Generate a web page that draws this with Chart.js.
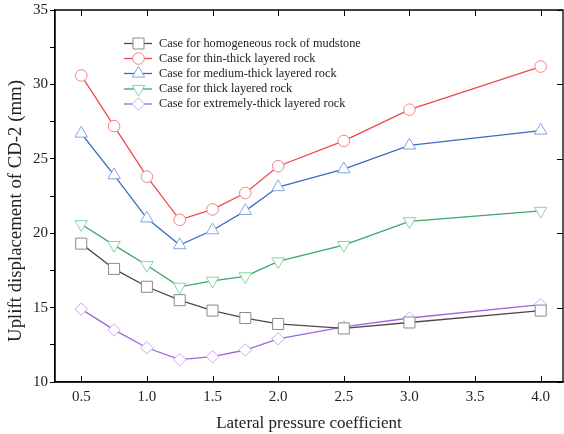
<!DOCTYPE html>
<html>
<head>
<meta charset="utf-8">
<script src="https://cdn.jsdelivr.net/npm/chart.js@4.4.1/dist/chart.umd.min.js"></script>
<style>
html,body{margin:0;padding:0;background:#fff;}
#wrap{width:564px;height:434px;position:relative;}
</style>
</head>
<body>
<div id="wrap"><canvas id="c" width="564" height="434"></canvas></div>
<script>
const lateralCoeff = [0.5, 0.75, 1.0, 1.25, 1.5, 1.75, 2.0, 2.5, 3.0, 4.0];
const homogeneous = [19.3, 17.6, 16.4, 15.5, 14.8, 14.3, 13.9, 13.6, 14.0, 14.8];
const thinThick = [30.6, 27.2, 23.8, 20.9, 21.6, 22.7, 24.5, 26.2, 28.3, 31.2];
const mediumThick = [26.7, 23.9, 21.0, 19.2, 20.2, 21.5, 23.1, 24.3, 25.9, 26.9];
const thickLayered = [20.6, 19.2, 17.85, 16.4, 16.8, 17.1, 18.1, 19.2, 20.8, 21.5];
const extremelyThick = [14.9, 13.5, 12.3, 11.5, 11.7, 12.15, 12.9, 13.7, 14.3, 15.2];
const xTicks = [0.5, 1.0, 1.5, 2.0, 2.5, 3.0, 3.5, 4.0];
const seriesNames = [
  'Case for homogeneous rock of mudstone',
  'Case for thin-thick layered rock',
  'Case for medium-thick layered rock',
  'Case for thick layered rock',
  'Case for extremely-thick layered rock'
];
const xTitle = 'Lateral pressure coefficient';
const yTitle = 'Uplift displacement of CD-2 (mm)';

const FONT = '"Liberation Serif", "Times New Roman", serif';
const pts = arr => lateralCoeff.map((x, i) => ({x, y: arr[i]}));

const styles = [
  {line:'#4a4a4a', mk:'#8a8a8a', style:'rect', r:7.8, rot:0},
  {line:'#f04848', mk:'#f08484', style:'circle', r:5.8, rot:0},
  {line:'#3a6cc0', mk:'#84a6e0', style:'triangle', r:7.2, rot:0},
  {line:'#3aa868', mk:'#86d4a6', style:'triangle', r:7.2, rot:180},
  {line:'#9e66de', mk:'#c8aaf0', style:'rectRot', r:6.2, rot:0}
];
const allData = [homogeneous, thinThick, mediumThick, thickLayered, extremelyThick];

const datasets = allData.map((d, i) => ({
  label: seriesNames[i],
  data: pts(d),
  borderColor: styles[i].line,
  borderWidth: 1.3,
  pointStyle: styles[i].style,
  pointRotation: styles[i].rot,
  pointRadius: styles[i].r,
  pointHoverRadius: styles[i].r,
  pointBorderColor: styles[i].mk,
  pointBackgroundColor: '#ffffff',
  pointBorderWidth: 1,
  tension: 0,
  fill: false
}));

const framePlugin = {
  id: 'frame',
  afterDraw(chart) {
    const ctx = chart.ctx;
    const a = chart.chartArea;
    const xs = chart.scales.x, ys = chart.scales.y;
    ctx.save();
    ctx.strokeStyle = '#000';
    ctx.lineWidth = 1.3;
    ctx.beginPath();
    ctx.rect(a.left, a.top, a.right - a.left, a.bottom - a.top);
    ctx.stroke();
    ctx.lineWidth = 1;
    ctx.beginPath();
    xTicks.forEach(v => {
      const px = Math.round(xs.getPixelForValue(v)) + 0.5;
      ctx.moveTo(px, a.bottom); ctx.lineTo(px, a.bottom - 6);
      ctx.moveTo(px, a.top); ctx.lineTo(px, a.top + 6);
    });
    for (let v = 10; v <= 35; v += 5) {
      const py = Math.round(ys.getPixelForValue(v)) + 0.5;
      ctx.moveTo(a.right, py); ctx.lineTo(a.right - 6, py);
    }
    ctx.stroke();
    // y axis title
    ctx.save();
    ctx.translate(16.5, 211);
    ctx.rotate(-Math.PI / 2);
    ctx.font = '18.8px ' + FONT;
    ctx.fillStyle = '#222';
    ctx.textAlign = 'center';
    ctx.textBaseline = 'middle';
    ctx.fillText(yTitle, 0, 0);
    ctx.restore();
    // legend
    const lx0 = 124, lx1 = 152, lmx = 138.5, tx = 159;
    const rows = [43.5, 58.5, 73.5, 89, 104];
    ctx.font = '12.3px ' + FONT;
    ctx.textBaseline = 'middle';
    ctx.textAlign = 'left';
    chart.data.datasets.forEach((ds, i) => {
      const y = rows[i];
      ctx.strokeStyle = ds.borderColor;
      ctx.lineWidth = 1.3;
      ctx.beginPath(); ctx.moveTo(lx0, y); ctx.lineTo(lx1, y); ctx.stroke();
      ctx.fillStyle = '#fff';
      ctx.strokeStyle = ds.pointBorderColor;
      ctx.lineWidth = 1;
      Chart.helpers.drawPoint(ctx, {pointStyle: ds.pointStyle, rotation: ds.pointRotation, radius: ds.pointRadius, borderWidth: 1}, lmx, y);
      ctx.fillStyle = '#222';
      ctx.fillText(ds.label, tx, y);
    });
    ctx.restore();
  }
};

new Chart(document.getElementById('c'), {
  type: 'line',
  data: {datasets},
  options: {
    responsive: false,
    animation: false,
    events: [],
    layout: {autoPadding: false, padding: {top: 10, right: 1, left: 0, bottom: 0}},
    plugins: {legend: {display: false}, tooltip: {enabled: false}},
    scales: {
      x: {
        type: 'linear',
        min: 0.3,
        max: 4.17,
        afterBuildTicks: s => { s.ticks = xTicks.map(v => ({value: v})); },
        afterFit: s => { s.height = 52; s.paddingLeft = 0; s.paddingRight = 0; },
        grid: {display: true, drawOnChartArea: false, drawTicks: true, tickLength: 6, color: 'rgba(0,0,0,0)'},
        border: {display: true, color: '#000', width: 1.3},
        ticks: {
          font: {family: FONT, size: 15},
          color: '#222',
          padding: 0,
          maxRotation: 0,
          callback: v => Number(v).toFixed(1)
        },
        title: {
          display: true,
          text: xTitle,
          font: {family: FONT, size: 17},
          color: '#222',
          padding: {top: 4, bottom: 0}
        }
      },
      y: {
        type: 'linear',
        min: 10,
        max: 35,
        afterFit: s => { s.width = 55; s.paddingTop = 0; s.paddingBottom = 0; },
        grid: {drawOnChartArea: false, drawTicks: true, tickLength: 5, color: '#000'},
        border: {display: true, color: '#000', width: 1.3},
        ticks: {
          stepSize: 2.5,
          font: {family: FONT, size: 15},
          color: '#222',
          padding: 2,
          callback: v => (v % 5 === 0 ? String(v) : '')
        },
        title: {display: false}
      }
    }
  },
  plugins: [framePlugin]
});
</script>
</body>
</html>
